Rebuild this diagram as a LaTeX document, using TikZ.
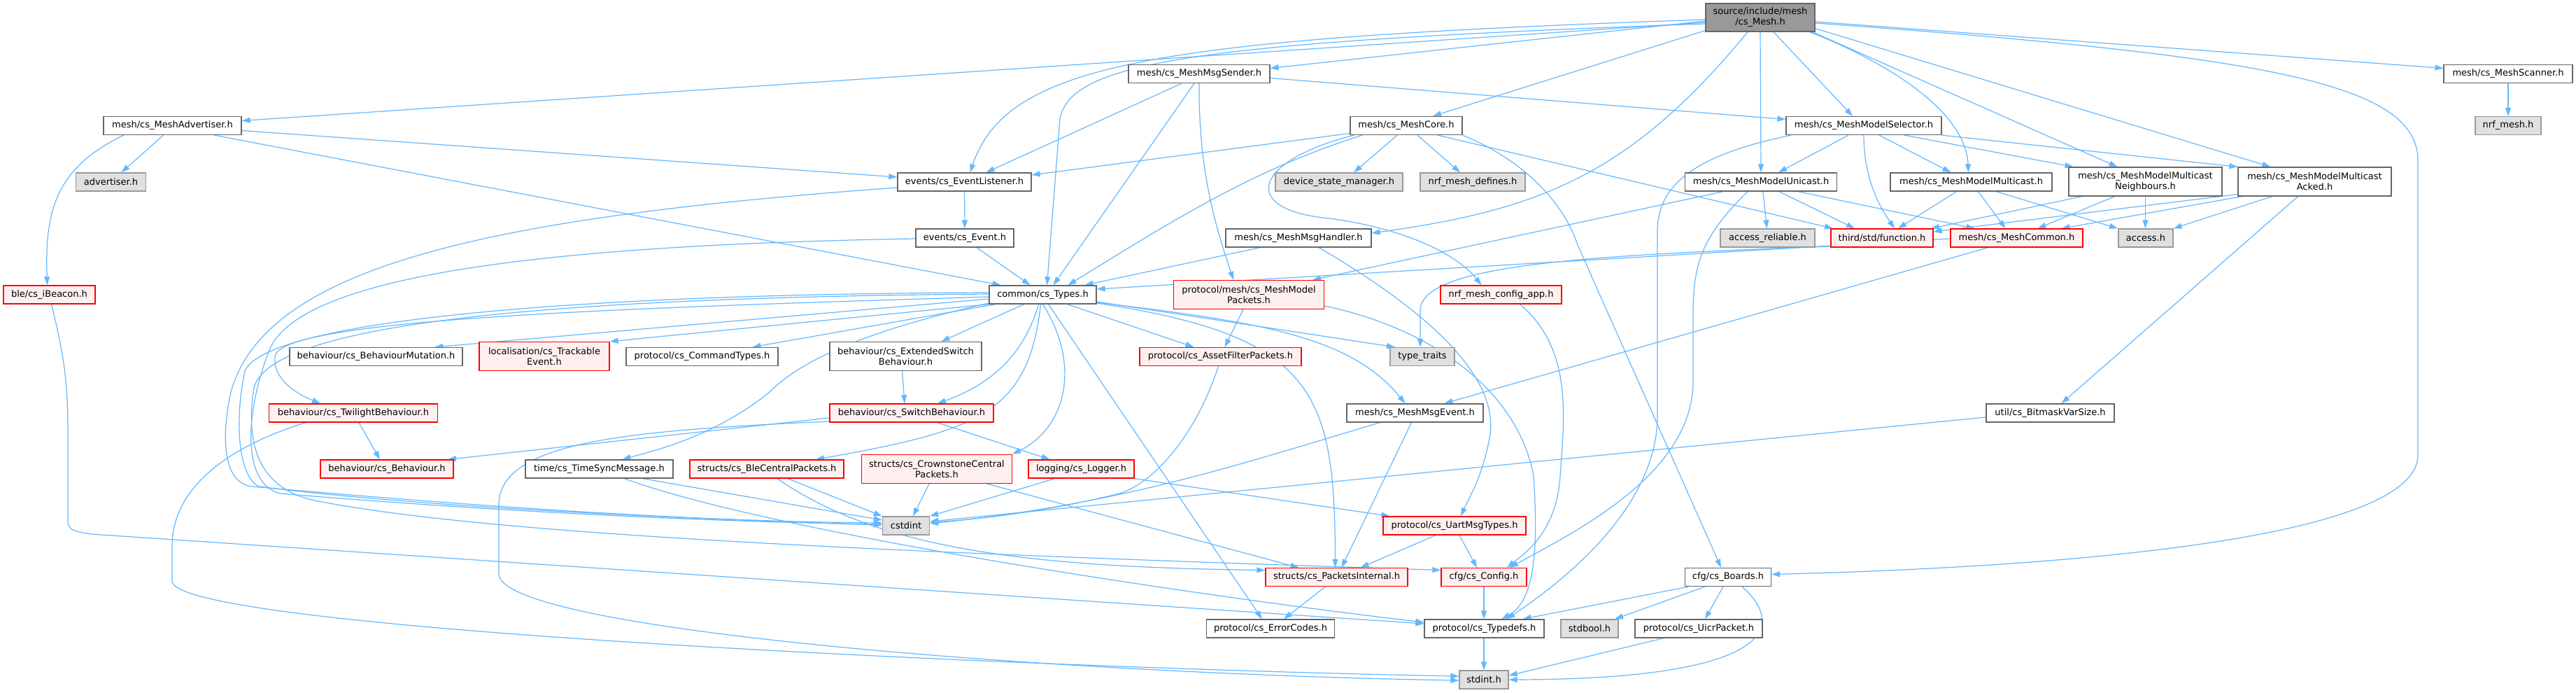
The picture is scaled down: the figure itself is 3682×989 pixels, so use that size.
\documentclass[tikz,border=0pt]{standalone}
\usepackage{fontspec}
\setmainfont{DejaVu Sans}
\usetikzlibrary{arrows.meta}
\definecolor{edgec}{HTML}{63B8FF}
\definecolor{bdark}{HTML}{666666}
\definecolor{bgrey}{HTML}{999999}
\definecolor{fgrey}{HTML}{E0E0E0}
\definecolor{fred}{HTML}{FFF0F0}
\definecolor{bred}{HTML}{FF0000}
\pgfdeclarelayer{bg}
\pgfsetlayers{bg,main}
\begin{document}
\begin{tikzpicture}[x=1pt,y=-1pt,
  nb/.style={inner sep=0pt, align=center, font=\fontsize{13}{15}\selectfont, line width=1.3pt, minimum height=26pt},
  tall/.style={minimum height=41pt},
  wb/.style={nb, draw=bdark, fill=white},
  rb/.style={nb, draw=bred, fill=fred},
  gb/.style={nb, draw=bgrey, fill=fgrey},
  rootb/.style={nb, draw=bdark, fill=bgrey, minimum height=40pt},
  dep/.style={draw=edgec, line width=1.2pt, -{Triangle[length=12pt,width=8pt]}}]
\useasboundingbox (0,0) rectangle (3682,989);
% nodes
\node[rootb, minimum width=156pt] (root) at (2516,25) {source/include/mesh\\/cs\_Mesh.h};
\node[wb, minimum width=197pt] (adv) at (246.5,179.5) {mesh/cs\_MeshAdvertiser.h};
\node[gb, minimum width=100pt] (advh) at (158.5,260) {advertiser.h};
\node[wb, minimum width=202pt] (sender) at (1714,105.5) {mesh/cs\_MeshMsgSender.h};
\node[wb, minimum width=191pt] (evl) at (1378.5,260) {events/cs\_EventListener.h};
\node[wb, minimum width=140pt] (event) at (1379,340) {events/cs\_Event.h};
\node[wb, minimum width=208pt] (handler) at (1856,340) {mesh/cs\_MeshMsgHandler.h};
\node[wb, minimum width=160pt] (core) at (2010,179.5) {mesh/cs\_MeshCore.h};
\node[gb, minimum width=182pt] (dsm) at (1914,260) {device\_state\_manager.h};
\node[gb, minimum width=150pt] (nrfdefs) at (2105,260) {nrf\_mesh\_defines.h};
\node[wb, minimum width=222pt] (selector) at (2664,179.5) {mesh/cs\_MeshModelSelector.h};
\node[wb, minimum width=217pt] (unicast) at (2517,260) {mesh/cs\_MeshModelUnicast.h};
\node[gb, minimum width=135pt] (areliable) at (2526.5,340) {access\_reliable.h};
\node[rb, minimum width=146pt] (function) at (2690,340) {third/std/function.h};
\node[rb, minimum width=189pt] (meshcommon) at (2882.5,340) {mesh/cs\_MeshCommon.h};
\node[gb, minimum width=78pt] (access) at (3067,340) {access.h};
\node[wb, minimum width=231pt] (multicast) at (2817.5,260) {mesh/cs\_MeshModelMulticast.h};
\node[wb, tall, minimum width=219pt] (neigh) at (3066.5,259.5) {mesh/cs\_MeshModelMulticast\\Neighbours.h};
\node[wb, tall, minimum width=219pt] (acked) at (3308.5,259.5) {mesh/cs\_MeshModelMulticast\\Acked.h};
\node[wb, minimum width=184pt] (scanner) at (3585,105.5) {mesh/cs\_MeshScanner.h};
\node[gb, minimum width=94pt] (nrfmesh) at (3585,179.5) {nrf\_mesh.h};
\node[wb, minimum width=183pt] (bitmask) at (2930.5,590) {util/cs\_BitmaskVarSize.h};
\node[wb, minimum width=123pt] (boards) at (2470,824.5) {cfg/cs\_Boards.h};
\node[rb, minimum width=131pt] (ibeacon) at (70.5,421) {ble/cs\_iBeacon.h};
\node[wb, minimum width=247pt] (mutation) at (537.5,509.5) {behaviour/cs\_BehaviourMutation.h};
\node[rb, tall, minimum width=186pt] (trackable) at (778,509) {localisation/cs\_Trackable\\Event.h};
\node[rb, minimum width=241pt] (twilight) at (505,590) {behaviour/cs\_TwilightBehaviour.h};
\node[rb, minimum width=190pt] (behaviour) at (553,670) {behaviour/cs\_Behaviour.h};
\node[wb, minimum width=211pt] (timesync) at (856.5,670) {time/cs\_TimeSyncMessage.h};
\node[wb, minimum width=153pt] (types) at (1490.5,421) {common/cs\_Types.h};
\node[rb, tall, minimum width=215pt] (mmpackets) at (1785,421) {protocol/mesh/cs\_MeshModel\\Packets.h};
\node[wb, minimum width=217pt] (cmdtypes) at (1003.5,509.5) {protocol/cs\_CommandTypes.h};
\node[wb, tall, minimum width=217pt] (extswitch) at (1294.5,509) {behaviour/cs\_ExtendedSwitch\\Behaviour.h};
\node[rb, minimum width=234pt] (switch) at (1303,590) {behaviour/cs\_SwitchBehaviour.h};
\node[rb, minimum width=231pt] (assetfilter) at (1744.5,509.5) {protocol/cs\_AssetFilterPackets.h};
\node[rb, minimum width=173pt] (nrfcfg) at (2145.5,421) {nrf\_mesh\_config\_app.h};
\node[gb, minimum width=92pt] (typetraits) at (2033,509.5) {type\_traits};
\node[wb, minimum width=195pt] (msgevent) at (2022.5,590) {mesh/cs\_MeshMsgEvent.h};
\node[rb, minimum width=220pt] (blecentral) at (1096,670) {structs/cs\_BleCentralPackets.h};
\node[rb, tall, minimum width=215pt] (cscentral) at (1339,670) {structs/cs\_CrownstoneCentral\\Packets.h};
\node[rb, minimum width=151pt] (logger) at (1545.5,670) {logging/cs\_Logger.h};
\node[gb, minimum width=67pt] (cstdint) at (1295,751) {cstdint};
\node[wb, minimum width=183pt] (errorcodes) at (1816,898) {protocol/cs\_ErrorCodes.h};
\node[rb, minimum width=203pt] (packets) at (1910.5,824.5) {structs/cs\_PacketsInternal.h};
\node[rb, minimum width=204pt] (uart) at (2079,751) {protocol/cs\_UartMsgTypes.h};
\node[rb, minimum width=122pt] (config) at (2121,824.5) {cfg/cs\_Config.h};
\node[wb, minimum width=171pt] (typedefs) at (2121.5,898) {protocol/cs\_Typedefs.h};
\node[gb, minimum width=82pt] (stdbool) at (2272,898) {stdbool.h};
\node[wb, minimum width=182pt] (uicr) at (2428,898) {protocol/cs\_UicrPacket.h};
\node[gb, minimum width=70pt] (stdint) at (2121,971) {stdint.h};
\begin{pgfonlayer}{bg}
\fill[white] (0,0) rectangle (3682,989);
% root edges
\draw[dep] ([yshift=-7pt]root.west) -- ([yshift=7pt]adv.east);
\draw[dep] ([yshift=-5pt]root.west) -- ([yshift=8pt]sender.east);
\draw[dep] ([yshift=-3pt]root.west) .. controls (1650,55) and (1440,90) .. ([xshift=8pt]evl.north);
\draw[dep] ([yshift=-9pt]root.west) .. controls (1700,60) and (1530,90) .. (1515,170) -- ([xshift=6pt]types.north);
\draw[dep] ([yshift=2pt]root.south west) -- ([xshift=38pt]core.north);
\draw[dep] ([xshift=-18pt]root.south) .. controls (2330,250) and (2200,300) .. ([yshift=7pt]handler.east);
\draw[dep] (root.south) -- (unicast.north);
\draw[dep] ([xshift=19pt]root.south) -- ([xshift=-16pt]selector.north);
\draw[dep] ([xshift=-8pt]root.south east) .. controls (2700,90) and (2810,160) .. ([xshift=-4pt]multicast.north);
\draw[dep] ([xshift=-4pt]root.south east) -- ([xshift=-40pt]neigh.north);
\draw[dep] ([yshift=5pt]root.south east) -- ([xshift=-63pt]acked.north);
\draw[dep] ([yshift=-6pt]root.east) -- ([yshift=8pt]scanner.west);
\draw[dep] ([yshift=-8pt]root.east) .. controls (3250,80) and (3456,120) .. (3456,230) -- (3456,650) .. controls (3456,770) and (2950,810) .. ([yshift=4pt]boards.east);
% advertiser
\draw[dep] ([xshift=-13pt]adv.south) -- ([xshift=15pt]advh.north);
\draw[dep] ([xshift=-70pt]adv.south) .. controls (80,240) and (64,300) .. ([xshift=-3pt]ibeacon.north);
\draw[dep] ([yshift=-7pt]adv.east) -- ([yshift=7pt]evl.west);
\draw[dep] ([xshift=60pt]adv.south) -- ([xshift=-60pt]types.north);
\draw[dep] ([xshift=3pt]ibeacon.south) .. controls (95,520) and (97,560) .. (97,620) -- (97,745) .. controls (97,758) and (110,760) .. (130,763) -- ([yshift=7pt]typedefs.west);
% sender
\draw[dep] ([xshift=-25pt]sender.south) -- ([xshift=31pt]evl.north);
\draw[dep] ([xshift=-7pt]sender.south) -- ([xshift=15pt]types.north);
\draw[dep] (sender.south) .. controls (1713,250) and (1740,330) .. ([xshift=-22pt]mmpackets.north);
\draw[dep] ([yshift=-6pt]sender.east) -- ([yshift=9pt]selector.west);
% event listener / event
\draw[dep] (evl.south) -- (event.north);
\draw[dep] ([yshift=-8pt]evl.west) .. controls (700,310) and (380,380) .. (330,560) .. controls (315,630) and (320,690) .. (360,695) .. controls (700,725) and (1000,745) .. ([yshift=4pt]cstdint.west);
\draw[dep] ([xshift=17pt]event.south) -- ([xshift=-18pt]types.north);
\draw[dep] ([yshift=-1pt]event.west) .. controls (800,350) and (430,390) .. (385,500) .. controls (350,590) and (345,690) .. (400,705) .. controls (700,730) and (1000,745) .. ([yshift=2pt]cstdint.west);
% types
\draw[dep] ([yshift=-6pt]types.west) -- ([xshift=84pt]mutation.north);
\draw[dep] (types.south west) -- (trackable.north east);
\draw[dep] ([xshift=-68pt]types.south) -- ([xshift=72pt]cmdtypes.north);
\draw[dep] ([xshift=-27pt]types.south) -- ([xshift=51pt]extswitch.north);
\draw[dep] ([xshift=-6pt]types.south) .. controls (1460,520) and (1400,555) .. ([xshift=37pt]switch.north);
\draw[dep] ([yshift=-3pt]types.west) .. controls (900,440) and (395,455) .. (393,510) .. controls (390,545) and (430,565) .. ([xshift=-47pt]twilight.north);
\draw[dep] ([yshift=-12pt]types.west) .. controls (1250,470) and (1150,510) .. (1100,560) .. controls (1020,625) and (930,645) .. ([xshift=33pt]timesync.north);
\draw[dep] ([xshift=-3pt]types.south) .. controls (1470,590) and (1400,615) .. ([xshift=70pt]blecentral.north);
\draw[dep] (types.south) .. controls (1545,520) and (1525,610) .. (cscentral.north east);
\draw[dep] ([xshift=8pt]types.south) -- ([xshift=-12pt]errorcodes.north);
\draw[dep] ([xshift=35pt]types.south) -- ([xshift=-38pt]assetfilter.north);
\draw[dep] ([yshift=-10pt]types.east) -- ([xshift=-39pt]typetraits.north);
\draw[dep] ([yshift=-11pt]types.east) .. controls (1800,460) and (1930,480) .. ([xshift=-14pt]msgevent.north);
\draw[dep] ([yshift=-12pt]types.east) .. controls (1880,480) and (1908,560) .. ([xshift=-2pt]packets.north);
\draw[dep] ([yshift=3pt]types.west) .. controls (800,420) and (380,460) .. (350,530) .. controls (335,600) and (340,680) .. (370,695) .. controls (600,725) and (1000,742) .. ([yshift=1pt]cstdint.west);
\draw[dep] ([yshift=1pt]types.west) .. controls (800,425) and (370,460) .. (362,560) .. controls (350,650) and (380,700) .. (450,715) .. controls (700,765) and (1300,790) .. ([yshift=10pt]config.west);
% behaviours
\draw[dep] ([xshift=-5pt]extswitch.south) -- ([xshift=-10pt]switch.north);
\draw[dep] ([yshift=-7pt]switch.west) -- ([xshift=87pt]behaviour.north);
\draw[dep] ([xshift=37pt]switch.south) -- ([xshift=-45pt]logger.north);
\draw[dep] ([yshift=-12pt]switch.west) .. controls (900,615) and (715,630) .. (713,720) -- (713,820) .. controls (715,900) and (1500,962) .. ([yshift=-1pt]stdint.west);
\draw[dep] ([xshift=8pt]twilight.south) -- ([xshift=-10pt]behaviour.north);
\draw[dep] ([xshift=-68pt]twilight.south) .. controls (320,640) and (246,700) .. (246,780) -- (246,830) .. controls (246,900) and (1500,955) .. ([yshift=5pt]stdint.west);
% packets etc
\draw[dep] ([xshift=-8pt]mmpackets.south) -- ([xshift=6pt]assetfilter.north);
\draw[dep] ([yshift=-16pt]mmpackets.east) .. controls (2050,470) and (2170,560) .. (2192,680) .. controls (2200,800) and (2190,860) .. ([xshift=25pt]typedefs.north);
\draw[dep] ([xshift=-3pt]assetfilter.south) .. controls (1710,620) and (1650,690) .. (1600,705) .. controls (1500,730) and (1400,742) .. ([yshift=5pt]cstdint.east);
\draw[dep] ([xshift=27pt]nrfcfg.south) .. controls (2250,500) and (2235,600) .. (2230,680) .. controls (2225,760) and (2180,790) .. ([xshift=33pt]config.north);
\draw[dep] ([xshift=-50pt]msgevent.south) .. controls (1750,670) and (1600,720) .. ([yshift=3pt]cstdint.east);
\draw[dep] ([xshift=-5pt]msgevent.south) -- ([xshift=7pt]packets.north);
\draw[dep] ([yshift=-6pt]bitmask.west) -- ([yshift=6pt]cstdint.east);
\draw[dep] ([xshift=62pt]timesync.south) -- ([yshift=8pt]cstdint.west);
\draw[dep] ([xshift=36pt]timesync.south) .. controls (1100,760) and (1700,850) .. ([yshift=9pt]typedefs.west);
\draw[dep] ([xshift=30pt]blecentral.south) -- (cstdint.north west);
\draw[dep] ([xshift=15pt]blecentral.south) .. controls (1250,780) and (1450,810) .. ([yshift=10pt]packets.west);
\draw[dep] ([xshift=-11pt]cscentral.south) -- ([xshift=10pt]cstdint.north);
\draw[dep] ([xshift=72pt]cscentral.south) -- ([xshift=-54pt]packets.north);
\draw[dep] ([xshift=-38pt]logger.south) -- (cstdint.north east);
\draw[dep] (logger.south east) -- ([xshift=10pt]uart.north west);
\draw[dep] ([xshift=-27pt]uart.south) -- ([xshift=34pt]packets.north);
\draw[dep] ([xshift=7pt]uart.south) -- ([xshift=-10pt]config.north);
\draw[dep] ([xshift=-16pt]packets.south) -- ([xshift=19pt]errorcodes.north);
\draw[dep] (config.south) -- (config.south |- typedefs.north);
\draw[dep] (stdint.north |- typedefs.south) -- (stdint.north);
\draw[dep] ([xshift=-57pt]boards.south) -- ([xshift=55pt]typedefs.north);
\draw[dep] ([xshift=-33pt]boards.south) -- ([xshift=36pt]stdbool.north);
\draw[dep] ([xshift=-7pt]boards.south) -- ([xshift=9pt]uicr.north);
\draw[dep] ([xshift=20pt]boards.south) .. controls (2560,900) and (2520,970) .. (stdint.east);
\draw[dep] ([xshift=-50pt]uicr.south) -- ([yshift=6pt]stdint.east);
% core
\draw[dep] ([yshift=-11pt]core.west) -- ([yshift=10pt]evl.east);
\draw[dep] ([xshift=-63pt]core.south) .. controls (1800,240) and (1700,300) .. ([xshift=36pt]types.north);
\draw[dep] ([xshift=-13pt]core.south) -- ([xshift=21pt]dsm.north);
\draw[dep] ([xshift=16pt]core.south) -- ([xshift=-18pt]nrfdefs.north);
\draw[dep] ([xshift=45pt]core.south) -- ([xshift=-70pt]function.north);
\draw[dep] ([xshift=-75pt]core.south) .. controls (1790,230) and (1770,300) .. (1900,312) .. controls (2000,325) and (2080,360) .. ([xshift=-28pt]nrfcfg.north);
\draw[dep] (core.south east) .. controls (2180,230) and (2235,290) .. (2255,350) -- ([xshift=-10pt]boards.north);
% selector
\draw[dep] ([xshift=-22pt]selector.south) -- ([xshift=25pt]unicast.north);
\draw[dep] ([xshift=22pt]selector.south) -- ([xshift=-29pt]multicast.north);
\draw[dep] ([xshift=58pt]selector.south) -- ([xshift=-103pt]neigh.north);
\draw[dep] (selector.south east) -- (acked.north west);
\draw[dep] (selector.south) .. controls (2664,260) and (2690,300) .. ([xshift=18pt]function.north);
\draw[dep] ([xshift=-104pt]selector.south) .. controls (2430,220) and (2369,260) .. (2369,330) -- (2369,600) .. controls (2365,720) and (2250,820) .. ([xshift=32pt]typedefs.north);
% unicast
\draw[dep] ([xshift=-54pt]unicast.south) -- ([xshift=91pt]mmpackets.north);
\draw[dep] ([xshift=3pt]unicast.south) -- ([xshift=-1pt]areliable.north);
\draw[dep] ([xshift=26pt]unicast.south) -- ([xshift=-39pt]function.north);
\draw[dep] ([xshift=53pt]unicast.south) -- ([xshift=-60pt]meshcommon.north);
\draw[dep] ([xshift=-19pt]unicast.south) .. controls (2430,340) and (2420,380) .. (2420,450) -- (2420,550) .. controls (2415,680) and (2250,760) .. ([xshift=37pt]config.north);
% multicast family
\draw[dep] ([xshift=-21pt]multicast.south) -- ([xshift=23pt]function.north);
\draw[dep] ([xshift=10pt]multicast.south) -- ([xshift=-16pt]meshcommon.north);
\draw[dep] ([xshift=36pt]multicast.south) -- ([xshift=-40pt]access.north);
\draw[dep] ([xshift=-91pt]neigh.south) -- ([xshift=70pt]function.north);
\draw[dep] ([xshift=-44pt]neigh.south) -- ([xshift=30pt]meshcommon.north);
\draw[dep] (neigh.south) -- (neigh.south |- access.north);
\draw[dep] ([yshift=-18pt]acked.west) -- ([yshift=9pt]function.east);
\draw[dep] ([xshift=-104pt]acked.south) -- ([xshift=64pt]meshcommon.north);
\draw[dep] ([xshift=-61pt]acked.south) -- (access.north east);
\draw[dep] ([xshift=-24pt]acked.south) -- ([xshift=16pt]bitmask.north);
% misc
\draw[dep] (scanner.south) -- (nrfmesh.north);
\draw[dep] ([xshift=-55pt]handler.south) -- ([xshift=60pt]types.north);
\draw[dep] ([xshift=29pt]handler.south) .. controls (2050,450) and (2140,540) .. (2130,620) .. controls (2120,680) and (2100,710) .. ([xshift=9pt]uart.north);
\draw[dep] ([yshift=-1pt]meshcommon.west) -- ([yshift=8pt]types.east);
\draw[dep] ([xshift=-41pt]meshcommon.south) -- ([xshift=42pt]msgevent.north);
\draw[dep] ([yshift=-12pt]function.west) .. controls (2250,365) and (2040,380) .. (2030,440) -- ([xshift=-3pt]typetraits.north);
\end{pgfonlayer}
\end{tikzpicture}
\end{document}
